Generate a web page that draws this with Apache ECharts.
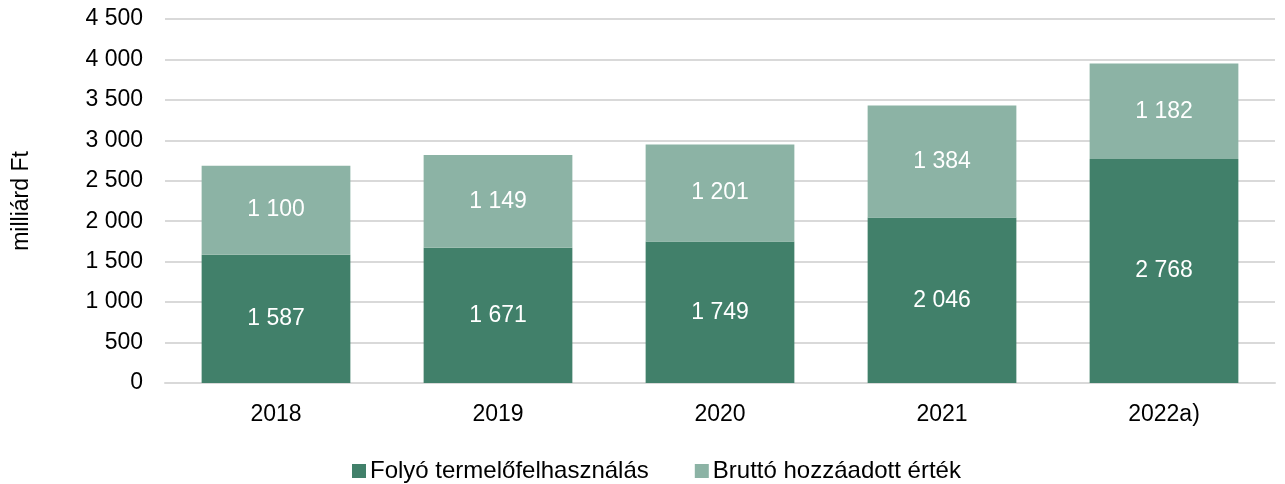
<!DOCTYPE html>
<html>
<head>
<meta charset="utf-8">
<script src="https://cdn.jsdelivr.net/npm/echarts@6/dist/echarts.min.js"></script>
<style>
  html, body { margin: 0; padding: 0; background: #fff; }
  #chart { width: 1285px; height: 484px; }
</style>
</head>
<body>
<div id="chart"></div>
<script>
var years = ['2018', '2019', '2020', '2021', '2022a)'];
var folyo = [1587, 1671, 1749, 2046, 2768];
var brutto = [1100, 1149, 1201, 1384, 1182];
var seriesNames = ['Folyó termelőfelhasználás', 'Bruttó hozzáadott érték'];

function fmt(v) {
    // szóköz ezres elválasztó
    return String(v).replace(/\B(?=(\d{3})+(?!\d))/g, ' ');
}

function DrawChart() {
    var chart = echarts.init(document.getElementById('chart'));
    var font = 'Liberation Sans, Arial, sans-serif';
    var labelStyle = {
        show: true,
        position: 'inside',
        color: '#fff',
        fontFamily: font,
        fontSize: 23,
        formatter: function (p) { return fmt(p.value); }
    };
    var option = {
        animation: false,
        textStyle: { fontFamily: font },
        grid: { left: 165, right: 10, top: 19, bottom: 101, outerBoundsMode: 'none', containLabel: false },
        legend: {
            bottom: 1,
            left: 352,
            padding: 0,
            itemWidth: 14,
            itemHeight: 14,
            itemGap: 46,
            icon: 'rect',
            textStyle: { fontSize: 24, color: '#000', fontFamily: font, padding: [0, 0, 0, -1] },
            data: seriesNames
        },
        xAxis: {
            type: 'category',
            data: years,
            axisLine: { lineStyle: { color: '#d9d9d9', width: 2 } },
            axisTick: { show: false },
            axisLabel: { color: '#000', fontSize: 23, margin: 20, fontFamily: font }
        },
        yAxis: {
            type: 'value',
            min: 0,
            max: 4500,
            interval: 500,
            name: 'milliárd Ft',
            nameLocation: 'middle',
            nameGap: 132,
            nameRotate: 90,
            nameTextStyle: { fontSize: 23, color: '#000', fontFamily: font },
            axisLine: { show: false },
            axisTick: { show: false },
            splitLine: { lineStyle: { color: '#d9d9d9', width: 2 } },
            axisLabel: {
                color: '#000',
                fontSize: 23,
                margin: 22,
                fontFamily: font,
                formatter: function (v) { return fmt(v); }
            }
        },
        series: [
            {
                name: seriesNames[0],
                type: 'bar',
                stack: 'total',
                barWidth: '67%',
                itemStyle: { color: '#41806a' },
                label: labelStyle,
                data: folyo
            },
            {
                name: seriesNames[1],
                type: 'bar',
                stack: 'total',
                itemStyle: { color: '#8cb3a5' },
                label: labelStyle,
                data: brutto
            }
        ]
    };
    chart.setOption(option);
}

DrawChart();
</script>
</body>
</html>
